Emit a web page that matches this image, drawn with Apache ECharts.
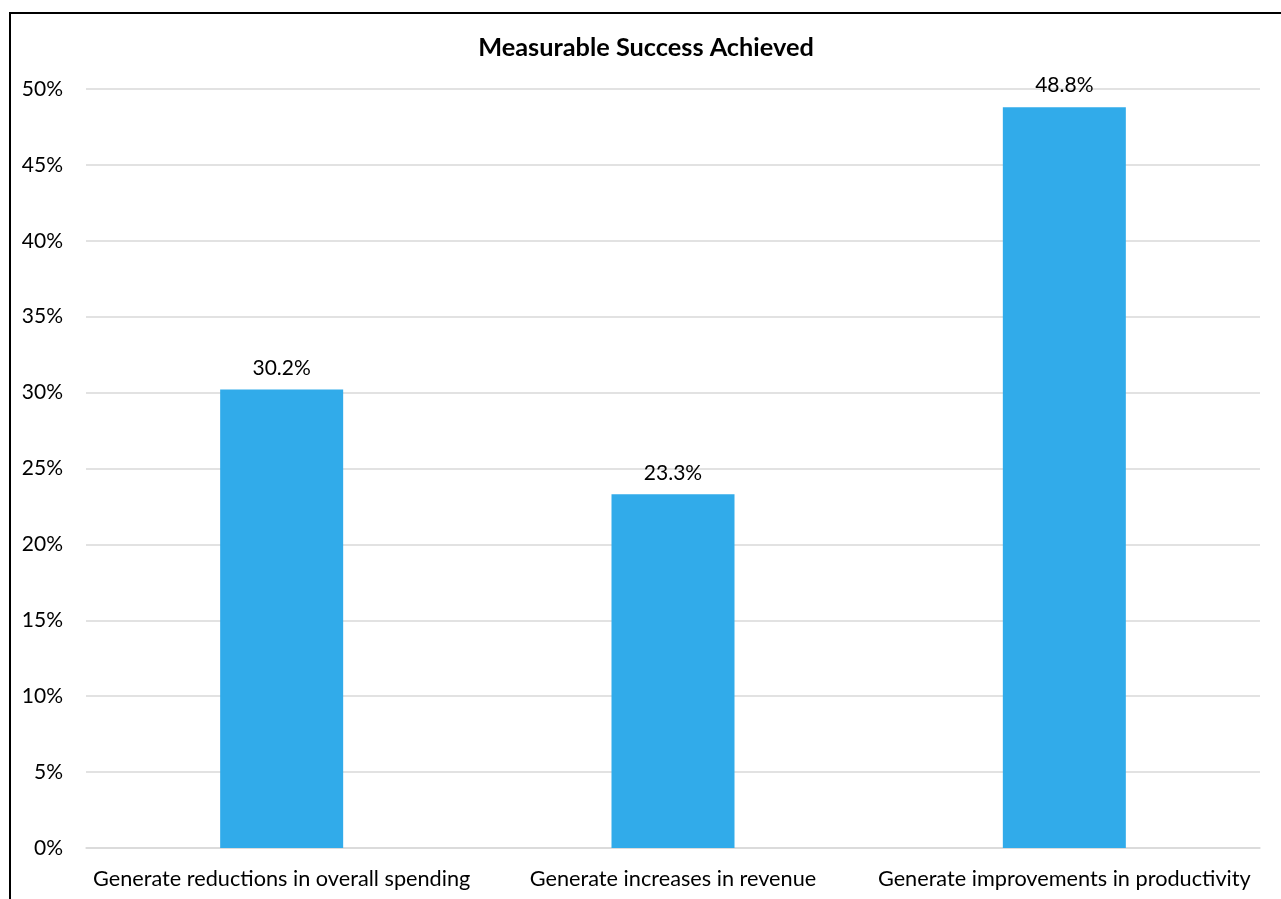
<!DOCTYPE html>
<html><head><meta charset="utf-8">
<script src="https://cdn.jsdelivr.net/npm/echarts@6/dist/echarts.min.js"></script>
<style>html,body{margin:0;padding:0;background:#fff}#c{width:1281px;height:899px}</style>
</head><body><div id="c"></div>
<script>
const categories = ["Generate reductions in overall spending", "Generate increases in revenue", "Generate improvements in productivity"];
const values = [30.2, 23.3, 48.8];
const titleText = "Measurable Success Achieved";
const FONT = "Lato";
const chart = echarts.init(document.getElementById('c'));
chart.setOption({
  animation: false,
  backgroundColor: '#fff',
  title: { text: titleText, left: 641, top: 30, textAlign: 'center',
    textStyle: { fontFamily: FONT, fontWeight: 'bold', fontSize: 25.3, color: '#000' } },
  graphic: [{ type: 'rect', shape: { x: 10, y: 13, width: 1400, height: 1000 },
    style: { fill: 'none', stroke: '#000', lineWidth: 2 }, z: 100 }],
  grid: { left: 86, right: 21, top: 89, bottom: 51 },
  xAxis: { type: 'category', data: categories,
    axisLine: { show: true, lineStyle: { color: '#D9D9D9', width: 1.5 } },
    axisTick: { show: false },
    axisLabel: { color: '#000', fontFamily: FONT, fontSize: 21.7, margin: 20, interval: 0 } },
  yAxis: { type: 'value', min: 0, max: 50, interval: 5,
    axisLabel: { formatter: '{value}%', color: '#000', fontFamily: FONT, fontSize: 21, margin: 23 },
    splitLine: { lineStyle: { color: '#D9D9D9', width: 1.5 } },
    axisLine: { show: false }, axisTick: { show: false } },
  series: [{ type: 'bar', data: values, barWidth: 123,
    itemStyle: { color: '#31ABEA' },
    label: { show: true, position: 'top', distance: 11, formatter: p => p.value.toFixed(1) + '%',
      color: '#000', fontFamily: FONT, fontSize: 21 } }]
});
</script></body></html>
